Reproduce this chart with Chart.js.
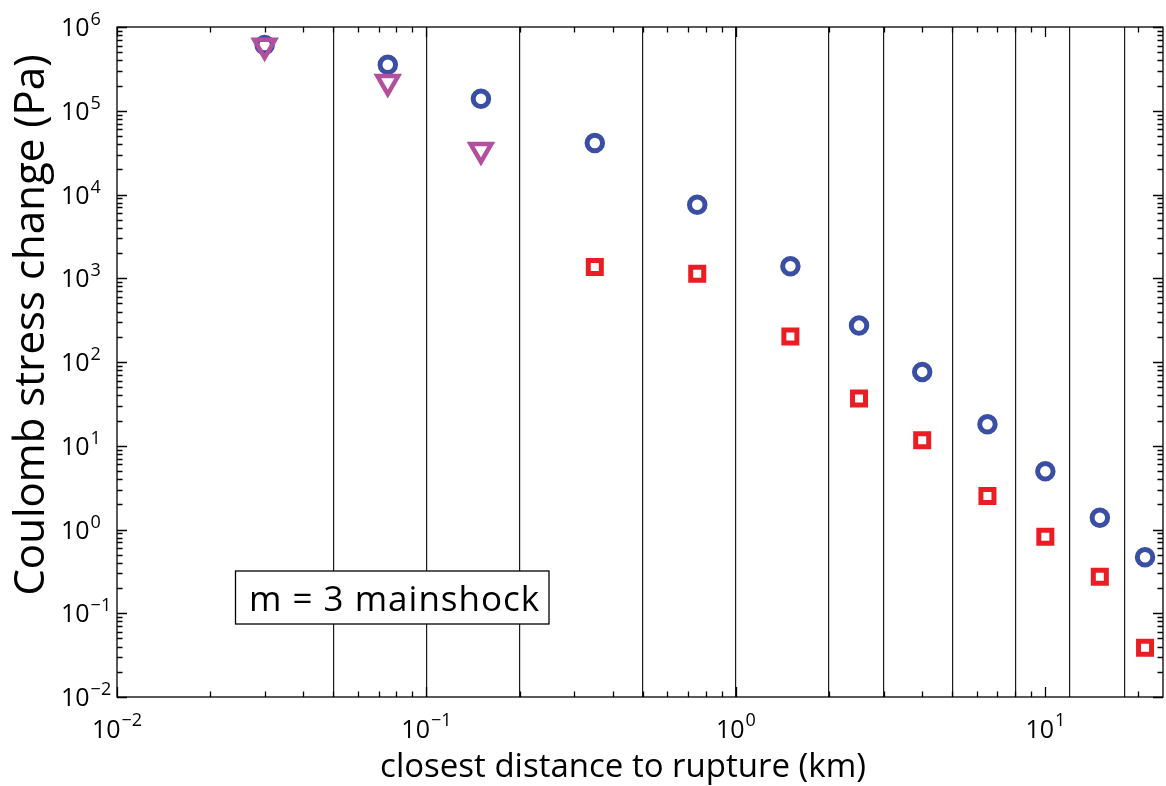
<!DOCTYPE html>
<html><head><meta charset="utf-8">
<script src="https://cdn.jsdelivr.net/npm/chart.js@4.4.1/dist/chart.umd.min.js"></script>
<style>html,body{margin:0;padding:0;background:#fff}#wrap{width:1166px;height:786px}</style>
</head><body><div id="wrap"><canvas id="c" width="1166" height="786"></canvas></div>
<script>
const distances = [0.03, 0.075, 0.15, 0.35, 0.75, 1.5, 2.5, 4, 6.5, 10, 15, 21];
const circleValues = [6.1e5, 3.54e5, 1.39e5, 4.12e4, 7.55e3, 1.39e3, 272, 76.2, 18.1, 4.97, 1.38, 0.467];
const squareDistances = [0.35, 0.75, 1.5, 2.5, 4, 6.5, 10, 15, 21];
const squareValues = [1360, 1130, 201, 36.6, 11.6, 2.52, 0.82, 0.272, 0.0387];
const triangleDistances = [0.03, 0.075, 0.15];
const triangleValues = [5.97e5, 2.2e5, 3.4e4];
const binEdges = [0.05, 0.1, 0.2, 0.5, 1, 2, 3, 5, 8, 12, 18];
const xTickValues = [0.01, 0.1, 1, 10];
const xTickExponents = ['−2', '−1', '0', '1'];
const yTickValues = [1e-2, 1e-1, 1, 10, 100, 1e3, 1e4, 1e5, 1e6];
const yTickExponents = ['−2', '−1', '0', '1', '2', '3', '4', '5', '6'];
const tickBase = '10';
const xTitle = 'closest distance to rupture (km)';
const yTitle = 'Coulomb stress change (Pa)';
const annotationText = 'm = 3 mainshock';

const FONT = "'Open Sans', 'DejaVu Sans', sans-serif";
const X_MIN = 0.01, X_MAX = 24, Y_MIN = 0.01, Y_MAX = 1e6;

function pts(xs, ys) { return xs.map((x, i) => ({x: x, y: ys[i]})); }

function minorValues(min, max) {
  const out = [];
  for (let e = Math.floor(Math.log10(min)); e <= Math.ceil(Math.log10(max)); e++) {
    for (let m = 2; m <= 9; m++) {
      const v = m * Math.pow(10, e);
      if (v > min && v < max) out.push(v);
    }
  }
  return out;
}

function zeroPad(s) { s.paddingLeft = 0; s.paddingRight = 0; s.paddingTop = 0; s.paddingBottom = 0; }

const framePlugin = {
  id: 'frame',
  afterDraw(chart) {
    const ctx = chart.ctx, a = chart.chartArea;
    const xs = chart.scales.x, ys = chart.scales.y;
    ctx.save();
    ctx.strokeStyle = '#000';
    ctx.lineWidth = 1.3;
    ctx.beginPath();
    const MAJ = 10, MIN = 5.5;
    const xt = xTickValues.map(v => [v, MAJ]).concat(minorValues(X_MIN, X_MAX).map(v => [v, MIN]));
    xt.forEach(([v, L]) => {
      const p = Math.round(xs.getPixelForValue(v)) + 0.5;
      ctx.moveTo(p, a.bottom); ctx.lineTo(p, a.bottom - L);
      ctx.moveTo(p, a.top); ctx.lineTo(p, a.top + L);
    });
    const yt = yTickValues.map(v => [v, MAJ]).concat(minorValues(Y_MIN, Y_MAX).map(v => [v, MIN]));
    yt.forEach(([v, L]) => {
      const p = Math.round(ys.getPixelForValue(v)) + 0.5;
      ctx.moveTo(a.left, p); ctx.lineTo(a.left + L, p);
      ctx.moveTo(a.right, p); ctx.lineTo(a.right - L, p);
    });
    ctx.stroke();
    ctx.strokeRect(a.left, a.top, a.right - a.left, a.bottom - a.top);

    // tick labels: base "10" with raised exponent
    ctx.fillStyle = '#000';
    ctx.textAlign = 'left';
    ctx.textBaseline = 'alphabetic';
    const baseFont = '25px ' + FONT, expFont = '18px ' + FONT;
    ctx.font = baseFont;
    const wBase = ctx.measureText(tickBase).width;
    xTickValues.forEach((v, i) => {
      const p = xs.getPixelForValue(v);
      ctx.font = expFont;
      const wExp = ctx.measureText(xTickExponents[i]).width;
      const start = p - (wBase + 1 + wExp) / 2;
      ctx.font = baseFont;
      ctx.fillText(tickBase, start, a.bottom + 41);
      ctx.font = expFont;
      ctx.fillText(xTickExponents[i], start + wBase + 1, a.bottom + 29);
    });
    yTickValues.forEach((v, i) => {
      const p = ys.getPixelForValue(v);
      ctx.font = baseFont;
      ctx.fillText(tickBase, a.left - 56, p + 9);
      ctx.font = expFont;
      ctx.fillText(yTickExponents[i], a.left - 56 + wBase + 1, p - 2);
    });

    // annotation box
    const bx = 235.5, by = 571, bw = 313.5, bh = 53;
    ctx.fillStyle = '#fff';
    ctx.fillRect(bx, by, bw, bh);
    ctx.strokeRect(bx, by, bw, bh);
    ctx.fillStyle = '#000';
    ctx.font = '35px ' + FONT;
    try { ctx.letterSpacing = '1px'; } catch (e) {}
    ctx.fillText(annotationText, 249, 611);
    try { ctx.letterSpacing = '0px'; } catch (e) {}

    // axis titles
    ctx.font = '33px ' + FONT;
    ctx.textAlign = 'center';
    ctx.fillText(xTitle, 623, 777);
    ctx.translate(44, 325);
    ctx.rotate(-Math.PI / 2);
    ctx.font = '42px ' + FONT;
    ctx.fillText(yTitle, 0, 0);
    ctx.restore();
  }
};

new Chart(document.getElementById('c'), {
  type: 'scatter',
  data: {
    datasets: [
      {
        label: 'triangles',
        data: pts(triangleDistances, triangleValues),
        pointStyle: 'triangle', pointRotation: 180, pointRadius: 12,
        pointBorderWidth: 4.5, pointBorderColor: '#b2509e', pointBackgroundColor: 'rgba(0,0,0,0)',
        borderColor: '#b2509e', backgroundColor: 'rgba(0,0,0,0)', showLine: false
      },
      {
        label: 'circles',
        data: pts(distances, circleValues),
        pointStyle: 'circle', pointRadius: 7.75,
        pointBorderWidth: 5, pointBorderColor: '#3a4fa3', pointBackgroundColor: 'rgba(0,0,0,0)',
        borderColor: '#3a4fa3', backgroundColor: 'rgba(0,0,0,0)', showLine: false
      },
      {
        label: 'squares',
        data: pts(squareDistances, squareValues),
        pointStyle: 'rect', pointRadius: 9.2,
        pointBorderWidth: 5, pointBorderColor: '#ec1c24', pointBackgroundColor: 'rgba(0,0,0,0)',
        borderColor: '#ec1c24', backgroundColor: 'rgba(0,0,0,0)', showLine: false
      }
    ]
  },
  options: {
    responsive: false,
    devicePixelRatio: 1,
    animation: false,
    layout: {autoPadding: false, padding: {top: 27, right: 3, left: 0, bottom: 0}},
    plugins: {legend: {display: false}, tooltip: {enabled: false}},
    events: [],
    scales: {
      x: {
        type: 'logarithmic', position: 'bottom', min: X_MIN, max: X_MAX,
        afterBuildTicks: s => { s.ticks = xTickValues.map(v => ({value: v})); },
        afterFit: s => { s.height = 89; zeroPad(s); },
        grid: {display: false, drawTicks: false},
        border: {display: false},
        ticks: {display: false, autoSkip: false}
      },
      xBins: {
        type: 'logarithmic', position: 'top', min: X_MIN, max: X_MAX,
        afterBuildTicks: s => { s.ticks = binEdges.map(v => ({value: v})); },
        afterFit: s => { s.height = 0; zeroPad(s); },
        grid: {display: true, drawTicks: false, drawOnChartArea: true, color: '#1a1a1a', lineWidth: 1.2},
        border: {display: false},
        ticks: {display: false, autoSkip: false}
      },
      y: {
        type: 'logarithmic', position: 'left', min: Y_MIN, max: Y_MAX,
        afterBuildTicks: s => { s.ticks = yTickValues.map(v => ({value: v})); },
        afterFit: s => { s.width = 117; zeroPad(s); },
        grid: {display: false, drawTicks: false},
        border: {display: false},
        ticks: {display: false, autoSkip: false}
      }
    }
  },
  plugins: [framePlugin]
});
</script>
</body></html>
